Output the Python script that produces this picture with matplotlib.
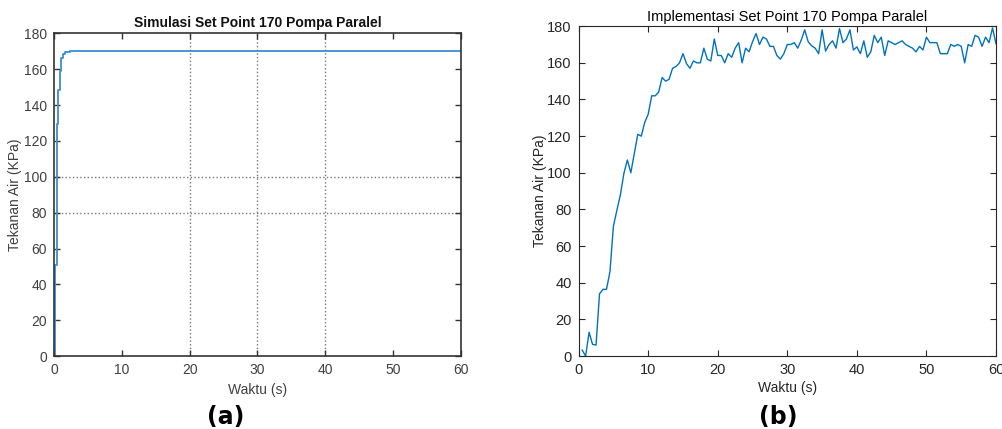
import numpy as np
import matplotlib
matplotlib.use("Agg")
import matplotlib.pyplot as plt

plt.rcParams['font.family'] = ['Liberation Sans', 'DejaVu Sans']

# (a) simulasi - respon tangga
sim_t = [0, 0.22, 0.38, 0.5, 0.58, 0.82, 1.02, 1.28, 1.55, 1.85, 2.3, 60]
sim_p = [0, 51, 97.5, 129.5, 148.5, 159, 166.5, 168.5, 169.4, 169.8, 170, 170]

# (b) implementasi - data sensor tiap 0.5 s
imp_t = [0.5, 1.0, 1.5, 2.0, 2.5, 3.0, 3.5, 4.0, 4.5, 5.0, 5.5, 6.0, 6.5, 7.0, 7.5, 8.0,
         8.5, 9.0, 9.5, 10.0, 10.5, 11.0, 11.5, 12.0, 12.5, 13.0, 13.5, 14.0, 14.5, 15.0,
         15.5, 16.0, 16.5, 17.0, 17.5, 18.0, 18.5, 19.0, 19.5, 20.0, 20.5, 21.0, 21.5, 22.0,
         22.5, 23.0, 23.5, 24.0, 24.5, 25.0, 25.5, 26.0, 26.5, 27.0, 27.5, 28.0, 28.5, 29.0,
         29.5, 30.0, 30.5, 31.0, 31.5, 32.0, 32.5, 33.0, 33.5, 34.0, 34.5, 35.0, 35.5, 36.0,
         36.5, 37.0, 37.5, 38.0, 38.5, 39.0, 39.5, 40.0, 40.5, 41.0, 41.5, 42.0, 42.5, 43.0,
         43.5, 44.0, 44.5, 45.0, 45.5, 46.0, 46.5, 47.0, 47.5, 48.0, 48.5, 49.0, 49.5, 50.0,
         50.5, 51.0, 51.5, 52.0, 52.5, 53.0, 53.5, 54.0, 54.5, 55.0, 55.5, 56.0, 56.5, 57.0,
         57.5, 58.0, 58.5, 59.0, 59.5, 60.0]
imp_p = [3.3, 0, 13, 6.4, 6, 34, 36.4, 36.4, 46, 71, 79.6, 88, 99.6, 107, 100, 110.5,
         121, 120, 127.5, 132, 142, 142, 144, 152, 150, 151, 157, 158, 160, 165,
         159.6, 157, 161, 160, 160, 168, 162, 161, 173, 164, 164, 160, 165, 163,
         168, 171, 160, 168, 166, 171.5, 176, 170, 174, 173, 169, 169, 164, 162,
         165, 170, 170, 171, 168, 172.4, 178, 171.5, 169.3, 168, 165, 178, 166.4, 170,
         172, 168, 178.7, 171, 173, 178, 167, 168.7, 165, 172, 163, 166, 175, 171,
         174, 164, 172, 171, 170, 171, 172, 170, 169, 168, 166, 169, 167, 174,
         171, 171, 171, 165, 165, 165, 170, 169, 170, 169, 160, 170, 169, 175,
         174, 169, 174, 171, 179, 170.5]

fig = plt.figure(figsize=(10.02, 4.29), dpi=100)

# ---- panel (a)
ax1 = fig.add_axes([0.0539, 0.170, 0.406, 0.752])
ax1.plot(sim_t, sim_p, drawstyle='steps-post', color='#3a8ed4', lw=1.3)
for gx in [20, 30, 40]:
    ax1.axvline(gx, color='#777777', ls=':', lw=1.0, zorder=0)
for gy in [80, 100]:
    ax1.axhline(gy, color='#777777', ls=':', lw=1.0, zorder=0)
ax1.set_xlim(0, 60)
ax1.set_ylim(0, 180)
ax1.set_xticks(np.arange(0, 61, 10))
ax1.set_yticks(np.arange(0, 181, 20))
ax1.tick_params(direction='in', top=True, right=True, length=4, width=1,
                colors='#333333', labelcolor='#404040', labelsize=10, pad=5)
for s in ax1.spines.values():
    s.set_color('#333333')
    s.set_linewidth(1.2)
ax1.set_title('Simulasi Set Point 170 Pompa Paralel', fontsize=10, fontweight='bold',
              color='#111111', pad=5)
ax1.set_xlabel('Waktu (s)', fontsize=10, color='#404040', labelpad=4)
ax1.set_ylabel('Tekanan Air (KPa)', fontsize=10, color='#404040', labelpad=1)

# ---- panel (b)
ax2 = fig.add_axes([0.5775, 0.170, 0.4165, 0.769])
ax2.plot(imp_t, imp_p, color='#0072BD', lw=1.0)
ax2.set_xlim(0, 60)
ax2.set_ylim(0, 180)
ax2.set_xticks(np.arange(0, 61, 10))
ax2.set_yticks(np.arange(0, 181, 20))
ax2.tick_params(direction='in', top=True, right=True, length=4, width=0.8,
                colors='#262626', labelcolor='#262626', labelsize=10.5, pad=5)
for s in ax2.spines.values():
    s.set_color('#262626')
    s.set_linewidth(0.8)
ax2.set_title('Implementasi Set Point 170 Pompa Paralel', fontsize=10.5,
              color='#000000', pad=4)
ax2.set_xlabel('Waktu (s)', fontsize=10, color='#262626', labelpad=3)
ax2.set_ylabel('Tekanan Air (KPa)', fontsize=10, color='#262626', labelpad=0)

fig.text(226 / 1002, 1 - 417 / 429, '(a)', ha='center', va='center',
         fontsize=17, fontweight='bold', family='DejaVu Sans')
fig.text(778 / 1002, 1 - 417 / 429, '(b)', ha='center', va='center',
         fontsize=17, fontweight='bold', family='DejaVu Sans')

fig.savefig('out.png', dpi=100)
